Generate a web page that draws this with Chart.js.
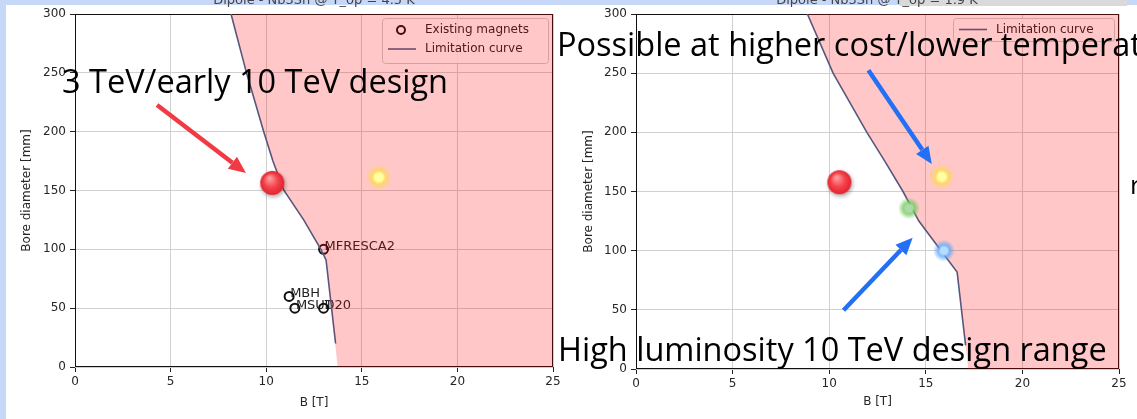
<!DOCTYPE html>
<html>
<head>
<meta charset="utf-8">
<script src="https://cdn.jsdelivr.net/npm/chart.js@4.4.1/dist/chart.umd.min.js"></script>
<style>
  html, body { margin: 0; padding: 0; background: #fff; }
  body { width: 1137px; height: 419px; position: relative; overflow: hidden; font-family: "DejaVu Sans", sans-serif; }
  canvas { position: absolute; top: 0; }
  #left { left: 0; }
  #right { left: 560px; }
  .ptitle { position: absolute; top: -7px; font-size: 13px; line-height: 13px; color: #444; white-space: nowrap; transform: translateX(-50%); }
  .band { position: absolute; background: #c7d7f7; }
  .note { position: absolute; font-family: "Open Sans", sans-serif; color: #000; white-space: nowrap; }
</style>
</head>
<body>
<canvas id="left" width="575" height="419"></canvas>
<canvas id="right" width="577" height="419"></canvas>

<div class="band" style="left:0; top:0; width:1137px; height:5px;"></div>
<div class="band" style="left:0; top:0; width:6px; height:419px;"></div>
<div style="position:absolute; left:900px; top:0; width:227px; height:6px; background:#d9d9d9;"></div>
<div class="ptitle" style="left:314px;">Dipole - Nb3Sn @ T_op = 4.5 K</div>
<div class="ptitle" style="left:877px;">Dipole - Nb3Sn @ T_op = 1.9 K</div>

<div class="note" style="left:62px; top:65px; font-size:32.5px; line-height:32px;">3 TeV/early 10 TeV design</div>
<div class="note" style="left:557px; top:28px; font-size:32.5px; line-height:32px;">Possible at higher cost/lower temperature</div>
<div class="note" style="left:558px; top:333px; font-size:32.5px; line-height:32px;">High luminosity 10 TeV design range</div>
<div class="note" style="left:1130px; top:171px; font-size:26px; line-height:26px;">r</div>

<script>
// axis ticks
const xTicks = [0, 5, 10, 15, 20, 25];
const yTicks = [0, 50, 100, 150, 200, 250, 300];

// left panel (4.5 K): limitation curve, B [T] vs bore [mm]
const leftCurveB = [8.16, 8.97, 9.87, 10.35, 10.93, 11.96, 12.86, 13.13, 13.63];
const leftCurveD = [300, 250, 200, 175, 150, 125, 100, 91, 20];
// where the shaded region meets the B axis
const leftEdgeB = [13.74, 25];
const leftEdgeD = [0, 0];

// existing magnets
const magnetNames = ["MFRESCA2", "MBH", "MSUT", "D20"];
const magnetB = [13.0, 11.2, 11.5, 13.0];
const magnetD = [100, 60, 50, 50];

// design points pasted on top
const leftDotB = [10.37, 15.89];
const leftDotD = [155.6, 161.2];
const leftDotKind = ["red", "yellow"];

// right panel (lower temperature)
const rightCurveB = [8.87, 10.2, 11.95, 12.9, 13.82, 14.64, 15.79, 16.62, 17.06];
const rightCurveD = [300, 250, 200, 175, 150, 125, 100, 82, 20];
const rightEdgeB = [17.2, 25];
const rightEdgeD = [0, 0];

const rightDotB = [10.58, 15.82, 14.13, 15.94];
const rightDotD = [157, 162.5, 135.8, 100];
const rightDotKind = ["red", "yellow", "green", "blue"];

// arrows: [B from, D from, B to, D to]
const leftArrows = [[4.29, 222.6, 8.94, 164.8]];
const rightArrows = [[12.03, 252.5, 15.31, 173.3], [10.74, 49.7, 14.32, 111]];

const pts = (bs, ds) => bs.map((b, i) => ({ x: b, y: ds[i] }));

// glowing dot images used as point styles
function glowDot(core, glow, r, halo) {
    const c = document.createElement("canvas");
    const s = Math.ceil(halo * 2 + 2);
    c.width = c.height = s;
    const g = c.getContext("2d");
    const m = s / 2;
    const grad = g.createRadialGradient(m, m, 0, m, m, halo);
    grad.addColorStop(0, `rgb(${core})`);
    grad.addColorStop(r / halo * 0.6, `rgb(${core})`);
    grad.addColorStop(r / halo, `rgba(${glow},0.75)`);
    grad.addColorStop(1, `rgba(${glow},0)`);
    g.fillStyle = grad;
    g.beginPath();
    g.arc(m, m, halo, 0, Math.PI * 2);
    g.fill();
    return c;
}

function redBall() {
    const c = document.createElement("canvas");
    c.width = c.height = 32;
    const g = c.getContext("2d");
    g.shadowColor = "rgba(0,0,0,0.35)";
    g.shadowBlur = 4;
    g.shadowOffsetX = 1;
    g.shadowOffsetY = 2;
    const grad = g.createRadialGradient(12, 10, 1, 15, 15, 12);
    grad.addColorStop(0, "#ff9c9c");
    grad.addColorStop(0.55, "#f4434c");
    grad.addColorStop(1, "#e4222e");
    g.fillStyle = grad;
    g.beginPath();
    g.arc(15, 15, 12, 0, Math.PI * 2);
    g.fill();
    return c;
}

const dotImages = {
    red: redBall(),
    yellow: glowDot("255,255,160", "255,215,80", 7, 13),
    green: glowDot("170,218,165", "110,200,90", 6, 11),
    blue: glowDot("180,222,255", "90,165,250", 6, 11)
};

// frame, legend and magnet labels go under the shaded overlay
const underlay = {
    id: "underlay",
    beforeDatasetsDraw(chart, args, opts) {
        const { ctx, chartArea: a } = chart;
        ctx.save();
        ctx.strokeStyle = "#111";
        ctx.lineWidth = 1;
        ctx.strokeRect(a.left + 0.5, a.top + 0.5, a.right - a.left - 1, a.bottom - a.top - 1);

        // legend box
        const L = opts.legend;
        ctx.fillStyle = "rgba(255,255,255,0.8)";
        ctx.strokeStyle = "#cccccc";
        ctx.beginPath();
        ctx.roundRect(L.x + 0.5, L.y + 0.5, L.w, L.h, 3);
        ctx.fill();
        ctx.stroke();
        ctx.font = "12px 'DejaVu Sans'";
        ctx.textBaseline = "middle";
        L.rows.forEach(r => {
            if (r.kind === "marker") {
                ctx.strokeStyle = "#111";
                ctx.lineWidth = 2;
                ctx.beginPath();
                ctx.arc(L.x + 19, r.y, 4, 0, Math.PI * 2);
                ctx.stroke();
            } else {
                ctx.strokeStyle = "#45618c";
                ctx.lineWidth = 1.6;
                ctx.beginPath();
                ctx.moveTo(L.x + 6, r.y);
                ctx.lineTo(L.x + 34, r.y);
                ctx.stroke();
            }
            ctx.fillStyle = "#222";
            ctx.fillText(r.text, L.x + 43, r.y);
        });

        // magnet labels
        if (opts.labels) {
            const xs = chart.scales.x, ys = chart.scales.y;
            ctx.font = "13px 'DejaVu Sans'";
            ctx.textBaseline = "alphabetic";
            ctx.fillStyle = "#222";
            magnetNames.forEach((name, i) => {
                ctx.fillText(name, xs.getPixelForValue(magnetB[i]) + 1, ys.getPixelForValue(magnetD[i]) + 1);
            });
        }
        ctx.restore();
    }
};

const arrows = {
    id: "arrows",
    afterDatasetsDraw(chart, args, opts) {
        const { ctx } = chart;
        const xs = chart.scales.x, ys = chart.scales.y;
        ctx.save();
        opts.list.forEach(a => {
            const x0 = xs.getPixelForValue(a[0]), y0 = ys.getPixelForValue(a[1]);
            const x1 = xs.getPixelForValue(a[2]), y1 = ys.getPixelForValue(a[3]);
            const ang = Math.atan2(y1 - y0, x1 - x0);
            const head = 17, half = 7.5;
            const bx = x1 - head * Math.cos(ang), by = y1 - head * Math.sin(ang);
            ctx.strokeStyle = opts.color;
            ctx.fillStyle = opts.color;
            ctx.lineWidth = 4.5;
            ctx.beginPath();
            ctx.moveTo(x0, y0);
            ctx.lineTo(bx, by);
            ctx.stroke();
            ctx.beginPath();
            ctx.moveTo(x1, y1);
            ctx.lineTo(bx + half * Math.sin(ang), by - half * Math.cos(ang));
            ctx.lineTo(bx - half * Math.sin(ang), by + half * Math.cos(ang));
            ctx.closePath();
            ctx.fill();
        });
        ctx.restore();
    }
};

function makeChart(id, p) {
    const datasets = [
        {
            data: pts(p.dotB, p.dotD),
            showLine: false,
            pointStyle: p.dotKind.map(k => dotImages[k]),
            pointRadius: 12,
            order: 0
        },
        {
            data: pts(p.curveB.slice(0, -1).concat(p.edgeB), p.curveD.slice(0, -1).concat(p.edgeD)),
            borderWidth: 0,
            borderColor: "rgba(0,0,0,0)",
            backgroundColor: "rgba(255,0,0,0.22)",
            pointRadius: 0,
            fill: "end",
            order: 1
        },
        {
            data: pts(p.curveB, p.curveD),
            borderColor: "#45618c",
            borderWidth: 1.6,
            pointRadius: 0,
            fill: false,
            order: 2
        }
    ];
    if (p.labels) {
        datasets.push({
            data: pts(magnetB, magnetD),
            showLine: false,
            pointStyle: "circle",
            pointRadius: 4.5,
            pointBorderWidth: 2,
            pointBorderColor: "#111",
            pointBackgroundColor: "rgba(0,0,0,0)",
            order: 3
        });
    }

    const tickFont = { family: "DejaVu Sans", size: 12 };
    return new Chart(document.getElementById(id), {
        type: "line",
        data: { datasets },
        plugins: [underlay, arrows],
        options: {
            responsive: false,
            animation: false,
            events: [],
            layout: { padding: { top: 14, right: p.padRight, left: 0, bottom: 0 } },
            plugins: {
                legend: { display: false },
                tooltip: { enabled: false },
                underlay: { legend: p.legend, labels: p.labels },
                arrows: { list: p.arrows, color: p.arrowColor }
            },
            scales: {
                x: {
                    type: "linear",
                    min: 0,
                    max: 25,
                    afterBuildTicks: s => { s.ticks = xTicks.map(v => ({ value: v })); },
                    afterFit: s => { s.height = p.xHeight; },
                    grid: { color: "#d0d0d0", tickLength: 5, tickColor: "#222" },
                    border: { display: false },
                    ticks: { font: tickFont, color: "#262626", padding: 3, maxRotation: 0, autoSkip: false },
                    title: { display: true, text: "B [T]", font: tickFont, color: "#262626", padding: { top: 0, bottom: p.xTitlePad } }
                },
                y: {
                    min: 0,
                    max: 300,
                    afterBuildTicks: s => { s.ticks = yTicks.map(v => ({ value: v })); },
                    afterFit: s => { s.width = p.yWidth; },
                    grid: { color: "#d0d0d0", tickLength: 5, tickColor: "#222" },
                    border: { display: false },
                    ticks: { font: tickFont, color: "#262626", padding: 4, autoSkip: false },
                    title: { display: true, text: "Bore diameter [mm]", font: tickFont, color: "#262626", padding: { top: p.yTitlePad, bottom: 0 } }
                }
            }
        }
    });
}

makeChart("left", {
    curveB: leftCurveB, curveD: leftCurveD, edgeB: leftEdgeB, edgeD: leftEdgeD,
    dotB: leftDotB, dotD: leftDotD, dotKind: leftDotKind,
    labels: true,
    arrows: leftArrows, arrowColor: "#f03a44",
    padRight: 22, yWidth: 75, xHeight: 52, yTitlePad: 20, xTitlePad: 9,
    legend: {
        x: 382, y: 18, w: 166, h: 45,
        rows: [{ kind: "marker", text: "Existing magnets", y: 30 }, { kind: "line", text: "Limitation curve", y: 49 }]
    }
});

makeChart("right", {
    curveB: rightCurveB, curveD: rightCurveD, edgeB: rightEdgeB, edgeD: rightEdgeD,
    dotB: rightDotB, dotD: rightDotD, dotKind: rightDotKind,
    labels: false,
    arrows: rightArrows, arrowColor: "#2470f4",
    padRight: 18, yWidth: 76, xHeight: 50, yTitlePad: 22, xTitlePad: 10,
    legend: {
        x: 393, y: 18, w: 161, h: 23,
        rows: [{ kind: "line", text: "Limitation curve", y: 29.5 }]
    }
});
</script>
</body>
</html>
